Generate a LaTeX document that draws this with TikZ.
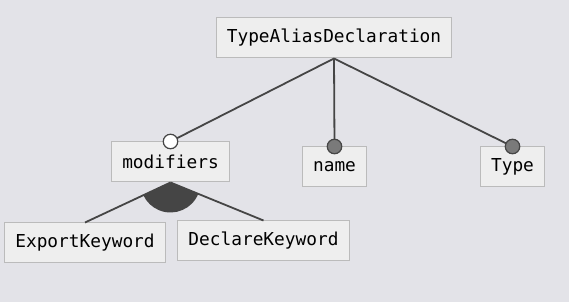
\documentclass[tikz,border=0pt]{standalone}
\usepackage{fontspec}
\setmonofont{DejaVu Sans Mono}
\usepackage{tikz}
\usetikzlibrary{positioning, arrows.meta}
\definecolor{bgcolor}{HTML}{E3E3E8}
\definecolor{boxfill}{HTML}{EEEEEE}
\definecolor{boxline}{HTML}{BBBBBB}
\definecolor{edgecolor}{HTML}{454545}
\definecolor{mandfill}{HTML}{7A7A7A}

\begin{document}
\begin{tikzpicture}[
            x=1pt, y=1pt,
            feature/.style={rectangle, draw=boxline, line width=1pt, fill=boxfill, minimum height=40pt, inner xsep=10.5pt, font=\ttfamily\fontsize{17.8}{20}\selectfont, text=black},
            edge/.style={draw=edgecolor, line width=1.8pt},
            mandatory/.style={circle, draw=edgecolor, line width=1.2pt, fill=mandfill, minimum size=14.5pt, inner sep=0pt},
            optional/.style={circle, draw=edgecolor, line width=1.2pt, fill=white, minimum size=14.5pt, inner sep=0pt}
        ]
        \fill[bgcolor] (0,0) rectangle (569,302);
        \useasboundingbox (0,0) rectangle (569,302);

        % Define the features as nodes
        \node[feature] (alias) at (334,264) {TypeAliasDeclaration};
        \node[feature] (modifiers) at (170.5,140) {modifiers};
        \node[feature] (name) at (334.5,135) {name};
        \node[feature] (type) at (512.5,135) {Type};
        \node[feature] (export) at (85,59) {ExportKeyword};
        \node[feature] (declare) at (263.5,61) {DeclareKeyword};

        % Draw the alternative group below modifiers
        \draw[edge] (modifiers.south) -- (export.north);
        \draw[edge] (modifiers.south) -- (declare.north);
        \fill[edgecolor] (modifiers.south) -- ++(-21.7:30) arc[start angle=-21.7, end angle=-155.4, radius=30] -- cycle;

        % Draw the child edges with their markers
        \coordinate (hub) at (alias.south);
        \draw[edge] (hub) -- (modifiers.north);
        \draw[edge] (hub) -- (name.north);
        \draw[edge] (hub) -- (type.north);
        \node[optional] (modmark) at (modifiers.north) {};
        \node[mandatory] (namemark) at (name.north) {};
        \node[mandatory] (typemark) at (type.north) {};
    \end{tikzpicture}
\end{document}
